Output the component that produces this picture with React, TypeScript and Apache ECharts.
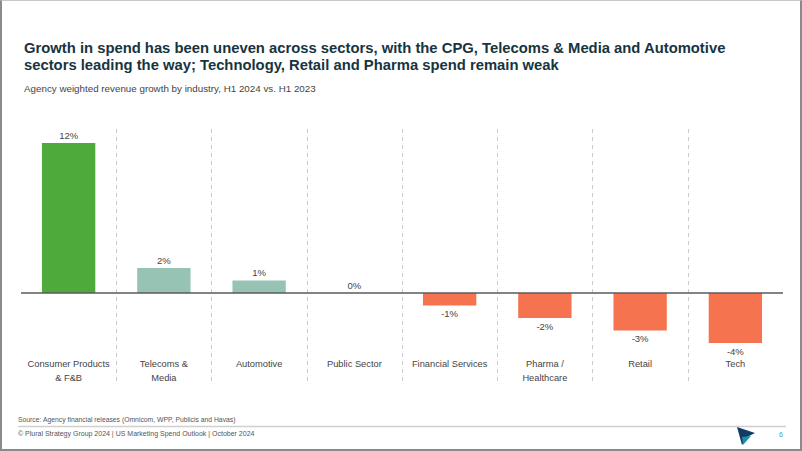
import React, { useEffect, useRef } from "react";
import * as echarts from "echarts";

const categories = [
  "Consumer Products\n& F&B",
  "Telecoms &\nMedia",
  "Automotive",
  "Public Sector",
  "Financial Services",
  "Pharma /\nHealthcare",
  "Retail",
  "Tech",
];
const growth = [12, 2, 1, 0, -1, -2, -3, -4];
const barColors = ["#4EAA3A", "#97C3B4", "#97C3B4", "#97C3B4", "#F6734F", "#F6734F", "#F6734F", "#F6734F"];

const titleText =
  "Growth in spend has been uneven across sectors, with the CPG, Telecoms & Media and Automotive\nsectors leading the way; Technology, Retail and Pharma spend remain weak";
const subtitleText = "Agency weighted revenue growth by industry, H1 2024 vs. H1 2023";
const sourceText = "Source: Agency financial releases (Omnicom, WPP, Publicis and Havas)";
const footerText = "© Plural Strategy Group 2024 | US Marketing Spend Outlook | October 2024";
const pageNumber = "6";

const FONT = "'Liberation Sans', Arial, sans-serif";

export default function App() {
  const ref = useRef<HTMLDivElement>(null);
  useEffect(() => {
    document.body.style.margin = "0";
    const chart = echarts.init(ref.current!, undefined, { renderer: "svg" });
    chart.setOption({
      animation: false,
      backgroundColor: "#ffffff",
      title: [
        {
          text: titleText,
          left: 19,
          top: 34,
          textStyle: { fontFamily: FONT, fontSize: 14.8, fontWeight: "bold", color: "#17343F", lineHeight: 17.5 },
        },
        {
          text: subtitleText,
          left: 19,
          top: 78,
          textStyle: { fontFamily: FONT, fontSize: 9.8, fontWeight: "normal", color: "#444444" },
        },
      ],
      grid: { left: 21, right: 19, top: 129, bottom: 68, containLabel: false },
      xAxis: {
        type: "category",
        data: categories,
        position: "bottom",
        axisLine: { show: false, onZero: false },
        axisTick: { show: false },
        axisLabel: {
          interval: 0,
          margin: -26,
          fontFamily: FONT,
          fontSize: 9.3,
          color: "#444444",
          lineHeight: 14,
          verticalAlign: "top",
        },
        splitLine: {
          show: true,
          showMinLine: false,
          showMaxLine: false,
          lineStyle: { color: "#CCCCCC", type: [4, 4], width: 1 },
        },
      },
      yAxis: {
        type: "value",
        min: -7.2,
        max: 13.12,
        show: false,
      },
      series: [
        {
          type: "bar",
          barWidth: "56%",
          data: growth.map((v, i) => ({
            value: v,
            itemStyle: { color: barColors[i] },
            label: { position: v < 0 ? "bottom" : "top" },
          })),
          label: {
            show: true,
            distance: 3,
            formatter: (p: any) => `${p.value}%`,
            fontFamily: FONT,
            fontSize: 9.5,
            color: "#444444",
          },
          markLine: {
            silent: true,
            symbol: "none",
            label: { show: false },
            lineStyle: { color: "#5A5A5A", width: 1.5, type: "solid" },
            data: [{ yAxis: 0 }],
          },
        },
      ],
      graphic: [
        {
          type: "text",
          left: 18,
          top: 416,
          style: { text: sourceText, font: `6.8px ${FONT}`, fill: "#555555" },
        },
        {
          type: "line",
          shape: { x1: 18, y1: 426.5, x2: 786, y2: 426.5 },
          style: { stroke: "#D0D0D0", lineWidth: 1.5 },
        },
        {
          type: "text",
          left: 18,
          top: 430,
          style: { text: footerText, font: `7px ${FONT}`, fill: "#555555" },
        },
        {
          type: "polygon",
          shape: { points: [[737, 427], [755, 433], [747, 437], [742, 445]] },
          style: { fill: "#123B66" },
        },
        {
          type: "polygon",
          shape: { points: [[742, 437], [751, 436], [743, 445]] },
          style: { fill: "#1E8FA8" },
        },
        {
          type: "text",
          left: 779,
          top: 431,
          style: { text: pageNumber, font: `7px ${FONT}`, fill: "#3A9FC8" },
        },
      ],
    });
    return () => chart.dispose();
  }, []);
  return (
    <div style={{ position: "relative", width: 802, height: 451 }}>
      <div ref={ref} style={{ position: "absolute", left: 0, top: 0, width: 802, height: 451 }} />
      <div
        style={{
          position: "absolute",
          left: 0,
          top: 0,
          width: 802,
          height: 451,
          boxSizing: "border-box",
          borderLeft: "2px solid #8A8A8A",
          borderRight: "2px solid #8A8A8A",
          borderBottom: "2px solid #8A8A8A",
          borderTop: "1px solid #C8C8C8",
          pointerEvents: "none",
        }}
      />
    </div>
  );
}
